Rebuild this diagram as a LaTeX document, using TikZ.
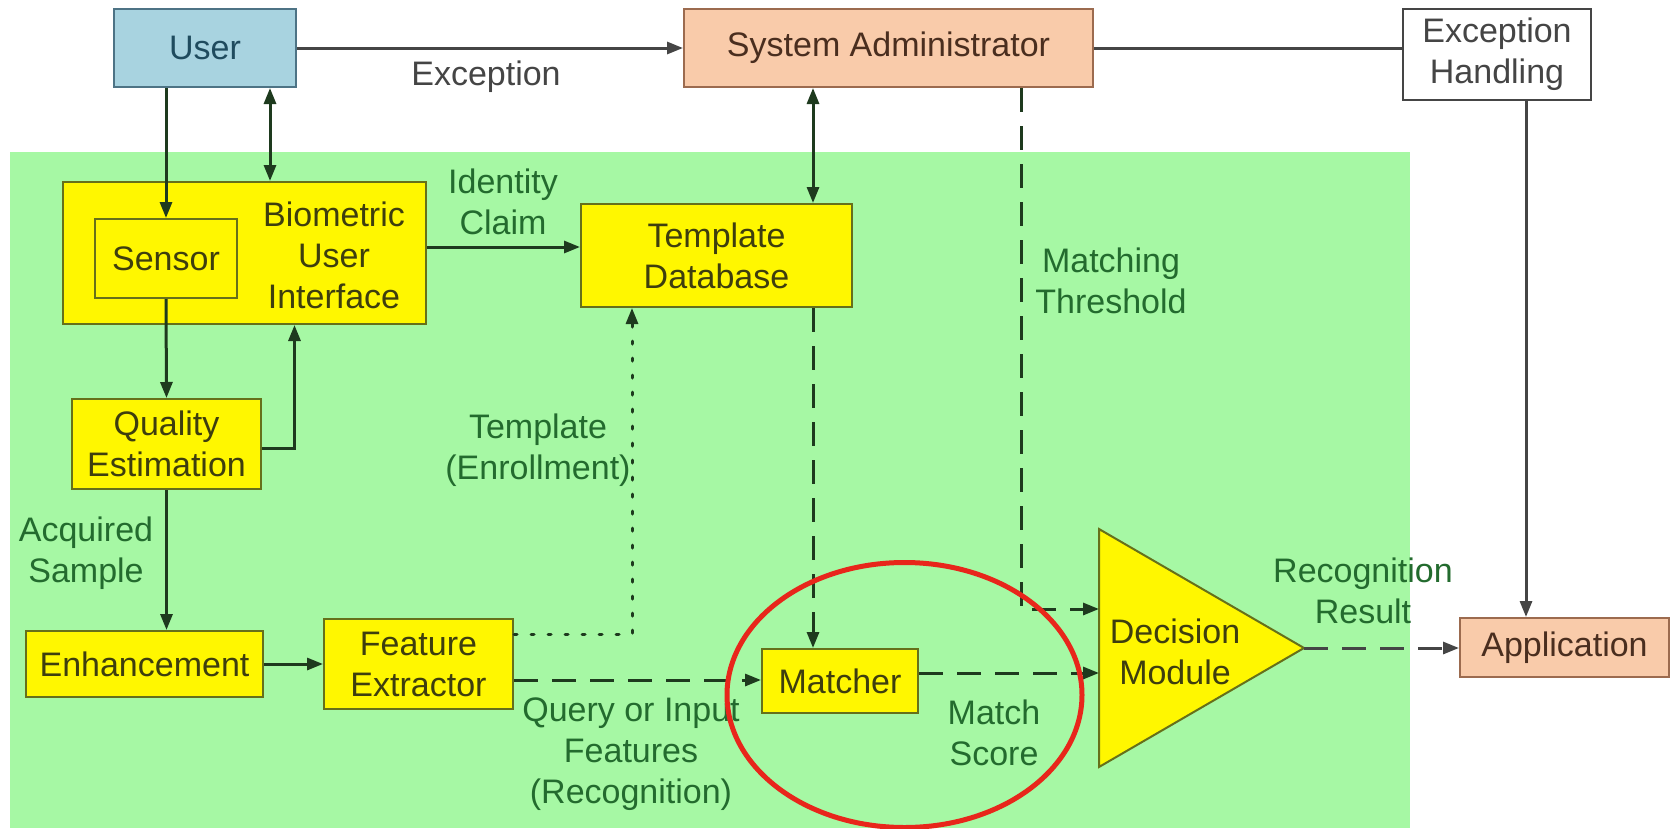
\documentclass[tikz,border=0pt]{standalone}
\usepackage{fontspec}
\setmainfont{Liberation Sans}
\usetikzlibrary{arrows.meta,calc}
\definecolor{bggreen}{HTML}{A6F8A4}
\definecolor{yfill}{HTML}{FFF700}
\definecolor{ydraw}{HTML}{66701A}
\definecolor{ytext}{HTML}{3E3E0E}
\definecolor{ufill}{HTML}{A8D3E0}
\definecolor{udraw}{HTML}{4D7385}
\definecolor{utext}{HTML}{1F4B5E}
\definecolor{pfill}{HTML}{F9CBAA}
\definecolor{pdraw}{HTML}{9C6B4F}
\definecolor{ptext}{HTML}{4A2E1F}
\definecolor{gtext}{HTML}{236B2E}
\definecolor{lineg}{HTML}{1E3A1E}
\definecolor{linek}{HTML}{454545}
\definecolor{ringred}{HTML}{E8261B}
\begin{document}
\begin{tikzpicture}[x=1pt,y=-1pt,
  every node/.style={font=\fontsize{34}{41}\selectfont, align=center, inner sep=0pt},
  ybox/.style={draw=ydraw, fill=yfill, line width=2pt, text=ytext},
  ubox/.style={draw=udraw, fill=ufill, line width=2pt, text=utext},
  pbox/.style={draw=pdraw, fill=pfill, line width=2pt, text=ptext},
  wbox/.style={draw=linek, fill=white, line width=2pt, text=linek},
  lbl/.style={text=gtext},
  conn/.style={line width=3pt, draw=lineg},
  arr/.style={conn, -{Triangle[length=16pt,width=12pt]}},
  darr/.style={conn, {Triangle[length=16pt,width=12pt]}-{Triangle[length=16pt,width=12pt]}},
  dsh/.style={dash pattern=on 24pt off 14pt},
  dotline/.style={dash pattern=on 3pt off 14pt, line cap=round}]
\useasboundingbox (0,0) rectangle (1671,828);
\fill[white] (0,0) rectangle (1671,828);
\fill[bggreen] (10,152) rectangle (1410,828);

% boxes
\node[ubox, minimum width=182pt, minimum height=78pt] (user) at (205,48) {User};
\node[pbox, minimum width=409pt, minimum height=78pt] (sysadmin) at (888.5,48) {System Administrator};
\node[wbox, minimum width=188pt, minimum height=91pt] (eh) at (1497,54.5) {Exception\\Handling};
\node[ybox, minimum width=363pt, minimum height=142pt] (bui) at (244.5,253) {};
\node[text=ytext] (buitext) at (334,255) {Biometric\\User\\Interface};
\node[ybox, minimum width=142pt, minimum height=79pt] (sensor) at (166,258.5) {Sensor};
\node[ybox, minimum width=271pt, minimum height=103pt] (tdb) at (716.5,255.5) {Template\\Database};
\node[ybox, minimum width=189pt, minimum height=90pt] (qe) at (166.5,444) {Quality\\Estimation};
\node[ybox, minimum width=237pt, minimum height=66pt] (enh) at (144.5,664) {Enhancement};
\node[ybox, minimum width=189pt, minimum height=90pt] (fe) at (418.5,664) {Feature\\Extractor};
\node[ybox, minimum width=156pt, minimum height=64pt] (matcher) at (840,681) {Matcher};
\node[pbox, minimum width=209pt, minimum height=59pt] (app) at (1564.5,647.5) {Application};

% decision module triangle
\coordinate (dA) at (1099,529);
\coordinate (dB) at (1099,767);
\coordinate (dC) at (1304,648);
\coordinate (dthr) at (1099,609);
\filldraw[fill=yfill, draw=ydraw, line width=2pt, line join=miter] (dA) -- (dC) -- (dB) -- cycle;
\node[text=ytext] (dm) at (1175,652) {Decision\\Module};

% connectors
\draw[arr] (sensor.north |- user.south) -- (sensor.north);
\draw[darr] ([xshift=65pt]user.south) -- ([xshift=65pt]user.south |- bui.north);
\draw[arr, draw=linek] (user.east) -- (sysadmin.west);
\draw[conn, draw=linek] (sysadmin.east) -- (sysadmin.east -| eh.west);
\draw[arr, draw=linek] ([xshift=29pt]eh.south) -- ([xshift=29pt]eh.south |- app.north);
\draw[darr] ([xshift=96.5pt]tdb.south |- sysadmin.south) -- ([xshift=96.5pt]tdb.north);
\draw[arr, dsh] ([xshift=132.5pt]sysadmin.south) |- (dthr);
\draw[arr] ([yshift=6pt]bui.east) -- ([yshift=6pt]bui.east -| tdb.west);
\draw[arr] (sensor.south) -- (qe.north);
\draw[arr] ([yshift=-4pt]qe.east) -| ([xshift=50pt]bui.south);
\draw[arr] (qe.south) -- (qe.south |- enh.north);
\draw[arr] (enh.east) -- (fe.west);
\draw[arr, dotline] ([yshift=30pt]fe.east) -| ([xshift=-84.5pt]tdb.south);
\draw[arr, dsh] ([xshift=96.5pt]tdb.south) -- ([xshift=96.5pt]tdb.south |- matcher.north);
\draw[arr, dsh] ([yshift=-16pt]fe.east) -- ([yshift=-16pt]fe.east -| matcher.west);
\draw[arr, dsh] ([yshift=8pt]matcher.east) -- ([yshift=8pt]matcher.east -| dA);
\draw[arr, dsh, draw=linek] (dC) -- (dC -| app.west);

% labels
\node[text=linek] (lexc) at (486,77) {Exception};
\node[lbl] (lid) at (503,202) {Identity\\Claim};
\node[lbl] (lthr) at (1111,281) {Matching\\Threshold};
\node[lbl] (ltpl) at (538,450) {Template\\(Enrollment)};
\node[lbl] (lacq) at (86,553) {Acquired\\Sample};
\node[lbl] (lqry) at (631,754) {Query or Input\\Features\\(Recognition)};
\node[lbl] (lms) at (994,733) {Match\\Score};
\node[lbl] (lrr) at (1363,591) {Recognition\\Result};

% highlight ring
\draw[ringred, line width=5pt] (904.5,695) ellipse [x radius=177.5pt, y radius=132.5pt];
\end{tikzpicture}
\end{document}
